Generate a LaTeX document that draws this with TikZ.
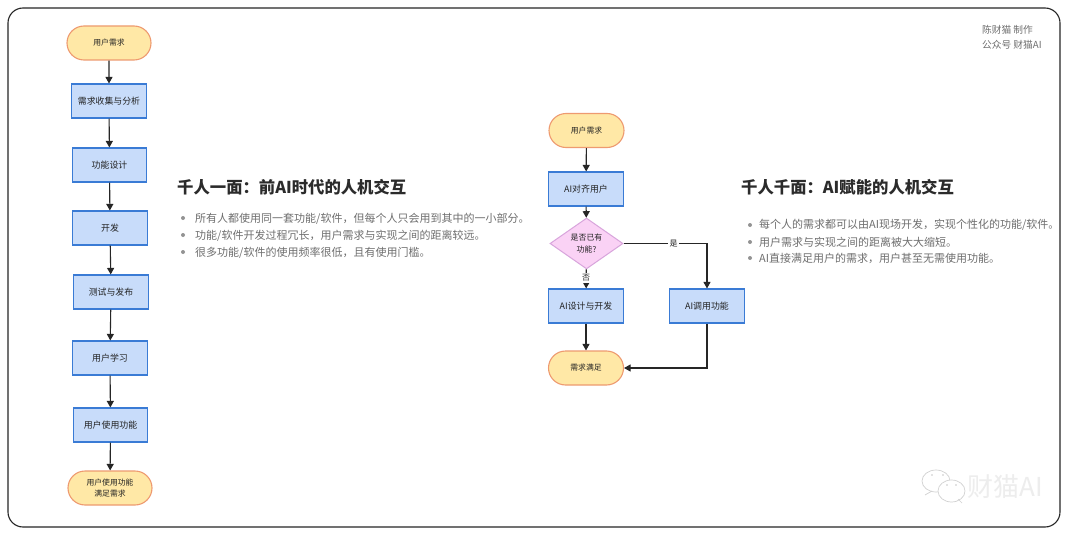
\documentclass[tikz,border=0pt]{standalone}
\usepackage{fontspec}
\setmainfont{Noto Sans CJK SC}
\usetikzlibrary{shapes.geometric,shapes.misc,arrows.meta}
\definecolor{termfill}{HTML}{FFE8A6}
\definecolor{termline}{HTML}{EE9A70}
\definecolor{boxfill}{HTML}{C8DCFA}
\definecolor{boxline}{HTML}{3A7BD5}
\definecolor{diafill}{HTML}{FAD2F5}
\definecolor{dialine}{HTML}{D8A4DC}
\definecolor{bodygray}{HTML}{6E6E6E}
\definecolor{titlegray}{HTML}{2B2B2B}
\definecolor{inkgray}{HTML}{222222}
\tikzset{
  x=1pt,y=-1pt,
  term/.style={rounded rectangle,draw=termline,fill=termfill,line width=1.1pt,minimum width=84pt,minimum height=34pt,inner sep=0pt,font=\fontsize{7.8}{11}\selectfont,text=inkgray,align=center},
  termr/.style={term,minimum width=75pt},
  stepbox/.style={rectangle,draw=boxline,fill=boxfill,line width=1.1pt,minimum width=74.5pt,minimum height=34pt,inner sep=0pt,font=\fontsize{8.9}{11}\selectfont,text=inkgray},
  choice/.style={diamond,draw=dialine,fill=diafill,line width=1pt,minimum width=73pt,minimum height=43pt,inner sep=0pt,font=\fontsize{7.9}{12}\selectfont,text=inkgray,align=center},
  link/.style={draw=black!85,line width=1.1pt,-{Triangle[length=6.5pt,width=7pt]}},
  edgelabel/.style={fill=white,inner sep=1.5pt,font=\fontsize{8}{9}\selectfont,text=inkgray},
  headline/.style={anchor=west,inner sep=0pt,font=\fontsize{16.35}{18}\selectfont\bfseries,text=titlegray},
  bulletline/.style={anchor=west,inner sep=0pt,font=\fontsize{11}{13}\selectfont,text=bodygray},
  bulletdot/.style={circle,fill=gray!85,inner sep=0pt,minimum size=4pt},
  credit/.style={anchor=west,inner sep=0pt,font=\fontsize{9.7}{11}\selectfont,text=bodygray},
  wmline/.style={draw=black!18,line width=0.7pt,fill=white},
}
\begin{document}
\begin{tikzpicture}
\useasboundingbox (0,0) rectangle (1080,535);
\fill[white] (0,0) rectangle (1080,535);
\draw[black!85,line width=1.1pt,rounded corners=15pt] (8,8) rectangle (1060,527);

% left flow
\node[term] (a1) at (109,43) {用户需求};
\node[stepbox] (a2) at (109,101) {需求收集与分析};
\node[stepbox] (a3) at (109.5,165) {功能设计};
\node[stepbox] (a4) at (110,228) {开发};
\node[stepbox] (a5) at (111,292) {测试与发布};
\node[stepbox] (a6) at (110,358) {用户学习};
\node[stepbox] (a7) at (110.5,425) {用户使用功能};
\node[term] (a8) at (110,488) {用户使用功能\\满足需求};
\foreach \p/\q in {a1/a2,a2/a3,a3/a4,a4/a5,a5/a6,a6/a7,a7/a8}
  \draw[link] (\p) -- (\q);

% right flow
\node[termr] (b1) at (586.5,130.5) {用户需求};
\node[stepbox] (b2) at (586,189) {AI对齐用户};
\node[choice] (b3) at (586.5,243.5) {是否已有\\功能?};
\node[stepbox] (b4) at (586,306) {AI设计与开发};
\node[stepbox] (b5) at (707,306) {AI调用功能};
\node[termr] (b6) at (586,368) {需求满足};
\draw[link] (b1) -- (b2);
\draw[link] (b2) -- (b3);
\draw[link] (b3) -- node[edgelabel,pos=0.45] {否} (b4);
\draw[link] (b3) -- node[edgelabel,pos=0.6] {是} (b3 -| b5) -- (b5);
\draw[link] (b4) -- (b6);
\draw[link] (b5) |- (b6);

% left text
\node[headline] (t1) at (177,187.5) {千人一面：前AI时代的人机交互};
\node[bulletdot] (d11) at (183,218) {};
\node[bulletdot] (d12) at (183,235) {};
\node[bulletdot] (d13) at (183,252) {};
\node[bulletline] (l11) at (195,218.5) {所有人都使用同一套功能/软件，但每个人只会用到其中的一小部分。};
\node[bulletline] (l12) at (195,235.5) {功能/软件开发过程冗长，用户需求与实现之间的距离较远。};
\node[bulletline] (l13) at (195,252.5) {很多功能/软件的使用频率很低，且有使用门槛。};

% right text
\node[headline] (t2) at (741,187.5) {千人千面：AI赋能的人机交互};
\node[bulletdot] (d21) at (750,225) {};
\node[bulletdot] (d22) at (750,242) {};
\node[bulletdot] (d23) at (750,258) {};
\node[bulletline] (l21) at (759,225) {每个人的需求都可以由AI现场开发，实现个性化的功能/软件。};
\node[bulletline] (l22) at (759,242) {用户需求与实现之间的距离被大大缩短。};
\node[bulletline] (l23) at (759,258) {AI直接满足用户的需求，用户甚至无需使用功能。};

% credit
\node[credit] (c1) at (982,30) {陈财猫 制作};
\node[credit] (c2) at (982,44.5) {公众号 财猫AI};

% watermark
\draw[wmline] (936,481) ellipse (14pt and 11pt);
\draw[wmline] (925,495) -- (932,491);
\draw[wmline] (951.5,491) ellipse (13.5pt and 11pt);
\draw[wmline] (958,499) -- (962,503);
\fill[black!22] (932,475) circle (0.9pt) (943,475) circle (0.9pt) (947,485) circle (0.9pt) (956,485) circle (0.9pt);
\node[anchor=west,inner sep=0pt,font=\fontsize{26}{27}\selectfont,text=black!7] (wm) at (967,487) {财猫AI};
\end{tikzpicture}
\end{document}
